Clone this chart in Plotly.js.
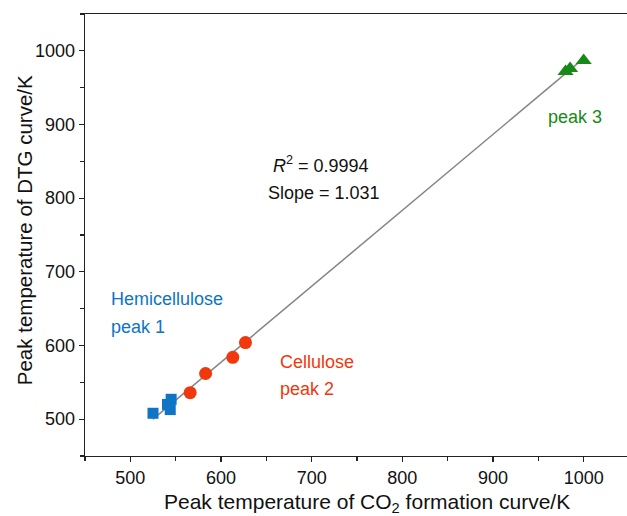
<!DOCTYPE html>
<html>
<head>
<meta charset="utf-8">
<script src="https://cdn.plot.ly/plotly-3.0.1.min.js"></script>
<style>
html,body{margin:0;padding:0;overflow:hidden;background:#fff;}
#chart{width:630px;height:516px;}
</style>
</head>
<body>
<div id="chart"></div>
<script>
// Peak temperatures (K): CO2 formation curve (x) vs DTG curve (y)
const hemiX = [525, 541, 545, 544];
const hemiY = [508, 520, 527, 513];
const celluX = [566, 583, 613, 627];
const celluY = [536, 562, 584, 604];
const peak3X = [1000, 985, 980];
const peak3Y = [987, 976, 972];
const fitSlope = 1.031;
const fitIntercept = -41.3;
const fitX = [525, 1000];
const fitY = fitX.map(v => fitSlope * v + fitIntercept);
const tickVals = [500, 600, 700, 800, 900, 1000];
const xTitle = 'Peak temperature of CO<sub>2</sub> formation curve/K';
const yTitle = 'Peak temperature of DTG curve/K';

const BLUE = '#0d74c6', RED = '#f0380c', GREEN = '#158a15';
const FONT = 'Liberation Sans, Arial, Helvetica, sans-serif';

const traces = [
  {x: fitX, y: fitY, mode: 'lines', line: {color: '#858585', width: 1.5}, showlegend: false, hoverinfo: 'skip'},
  {x: hemiX, y: hemiY, mode: 'markers', name: 'Hemicellulose peak 1',
   marker: {symbol: 'square', size: 11, color: BLUE}},
  {x: celluX, y: celluY, mode: 'markers', name: 'Cellulose peak 2',
   marker: {symbol: 'circle', size: 13, color: RED}},
  {x: peak3X, y: peak3Y, mode: 'markers', name: 'peak 3',
   marker: {symbol: 'triangle-up', size: 14, color: GREEN}}
];

const axisCommon = {
  range: [450, 1050], tickvals: tickVals, ticktext: tickVals.map(String),
  ticks: 'outside', ticklen: 5, tickwidth: 1.2, tickcolor: '#222',
  showline: true, linecolor: '#222', linewidth: 1.3,
  showgrid: false, zeroline: false,
  minor: {dtick: 50, tick0: 450, ticks: 'outside', ticklen: 4, tickwidth: 1.2, tickcolor: '#222'},
  tickfont: {family: FONT, size: 18, color: '#111'}
};

const layout = {
  width: 630, height: 516,
  margin: {l: 85, r: 1, t: 14, b: 60},
  paper_bgcolor: '#fff', plot_bgcolor: '#fff',
  showlegend: false,
  font: {family: FONT, size: 18, color: '#111'},
  xaxis: Object.assign({}, axisCommon, {mirror: true}),
  yaxis: Object.assign({}, axisCommon),
  annotations: [
    {xref: 'paper', yref: 'paper', x: 0.519, y: -0.106, xanchor: 'center', yanchor: 'middle',
     text: xTitle, showarrow: false, font: {family: FONT, size: 21, color: '#111'}},
    {xref: 'paper', yref: 'paper', x: -0.112, y: 0.511, xanchor: 'center', yanchor: 'middle', textangle: -90,
     text: yTitle, showarrow: false, font: {family: FONT, size: 20.5, color: '#111'}},
    {x: 477, y: 663, text: 'Hemicellulose', xanchor: 'left', showarrow: false, font: {family: FONT, size: 18, color: BLUE}},
    {x: 477, y: 625, text: 'peak 1', xanchor: 'left', showarrow: false, font: {family: FONT, size: 18, color: BLUE}},
    {x: 663, y: 578, text: 'Cellulose', xanchor: 'left', showarrow: false, font: {family: FONT, size: 18, color: RED}},
    {x: 663, y: 541, text: 'peak 2', xanchor: 'left', showarrow: false, font: {family: FONT, size: 18, color: RED}},
    {x: 990, y: 910, text: 'peak 3', xanchor: 'center', showarrow: false, font: {family: FONT, size: 18, color: GREEN}},
    {x: 710, y: 846, text: '<i>R</i><sup>2</sup> = 0.9994', xanchor: 'center', showarrow: false, font: {family: FONT, size: 18, color: '#111'}},
    {x: 714, y: 807, text: 'Slope = 1.031', xanchor: 'center', showarrow: false, font: {family: FONT, size: 18, color: '#111'}}
  ]
};

Plotly.newPlot('chart', traces, layout, {displayModeBar: false, staticPlot: true});
</script>
</body>
</html>
